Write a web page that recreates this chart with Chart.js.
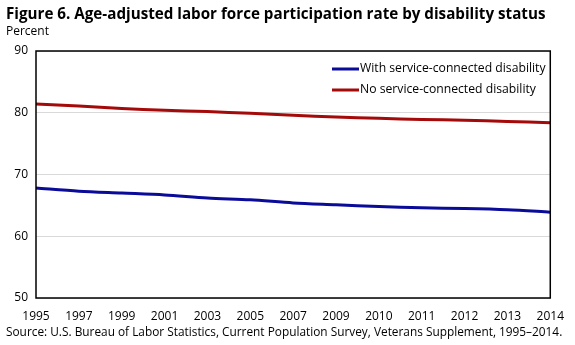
<!DOCTYPE html>
<html>
<head>
<meta charset="utf-8">
<script src="https://cdn.jsdelivr.net/npm/chart.js@4"></script>
<style>
  html, body { margin: 0; padding: 0; background: #fff; }
  #wrap { width: 575px; height: 345px; position: relative; }
</style>
</head>
<body>
<div id="wrap"><canvas id="chart" width="575" height="345"></canvas></div>
<script>
const years = ['1995', '1997', '1999', '2001', '2003', '2005', '2007', '2009', '2010', '2011', '2012', '2013', '2014'];
const withDisability = [67.8, 67.3, 67.0, 66.7, 66.2, 65.9, 65.4, 65.1, 64.8, 64.6, 64.5, 64.3, 63.9];
const noDisability = [81.4, 81.1, 80.7, 80.4, 80.2, 79.9, 79.6, 79.3, 79.1, 78.9, 78.8, 78.6, 78.4];
const yTicks = [50, 60, 70, 80, 90];

const FONT = "'Open Sans', 'Noto Sans', sans-serif";

// title, unit label, source line and the in-plot legend
const textPlugin = {
    id: 'texts',
    afterDraw(chart) {
        const ctx = chart.ctx;
        const area = chart.chartArea;
        ctx.save();
        ctx.fillStyle = '#000';
        ctx.textBaseline = 'middle';
        ctx.textAlign = 'left';
        ctx.font = "bold 15.2px " + FONT;
        ctx.fillText('Figure 6. Age-adjusted labor force participation rate by disability status', 6, 15);
        ctx.font = "12px " + FONT;
        ctx.fillText('Percent', 6, 32);
        ctx.font = "11.85px " + FONT;
        ctx.fillText('Source: U.S. Bureau of Labor Statistics, Current Population Survey, Veterans Supplement, 1995\u20132014.', 6, 333);

        // legend
        ctx.font = "12.2px " + FONT;
        chart.data.datasets.forEach((ds, i) => {
            const y = 69 + i * 21;
            ctx.strokeStyle = ds.borderColor;
            ctx.lineWidth = 3;
            ctx.beginPath();
            ctx.moveTo(332, y);
            ctx.lineTo(359, y);
            ctx.stroke();
            ctx.fillText(ds.label, 360, y);
        });

        // box round plot area
        ctx.strokeStyle = '#000';
        ctx.lineWidth = 1.5;
        ctx.strokeRect(area.left, area.top, area.right - area.left, area.bottom - area.top);
        ctx.restore();
    }
};

new Chart(document.getElementById('chart'), {
    type: 'line',
    data: {
        labels: years,
        datasets: [
            {
                label: 'With service-connected disability',
                data: withDisability,
                borderColor: '#0b0b9a',
                borderWidth: 3,
                pointRadius: 0,
                tension: 0.3
            },
            {
                label: 'No service-connected disability',
                data: noDisability,
                borderColor: '#a50a0a',
                borderWidth: 3,
                pointRadius: 0,
                tension: 0.3
            }
        ]
    },
    options: {
        responsive: false,
        animation: false,
        layout: { padding: { top: 51, right: 22, bottom: 17, left: 0 } },
        plugins: {
            legend: { display: false },
            tooltip: { enabled: false }
        },
        scales: {
            x: {
                offset: false,
                grid: { display: false, drawTicks: false },
                border: { display: false },
                ticks: {
                    color: '#000',
                    font: { family: FONT, size: 12 },
                    maxRotation: 0,
                    autoSkip: false,
                    padding: 11
                },
                afterFit(scale) { scale.height = 30; }
            },
            y: {
                min: 50,
                max: 90,
                afterBuildTicks(scale) { scale.ticks = yTicks.map(v => ({ value: v })); },
                grid: { color: '#d9d9d9', lineWidth: 1, drawTicks: false },
                border: { display: false },
                ticks: {
                    color: '#000',
                    font: { family: FONT, size: 12 },
                    padding: 8
                },
                afterFit(scale) { scale.width = 36; }
            }
        }
    },
    plugins: [textPlugin]
});
</script>
</body>
</html>
